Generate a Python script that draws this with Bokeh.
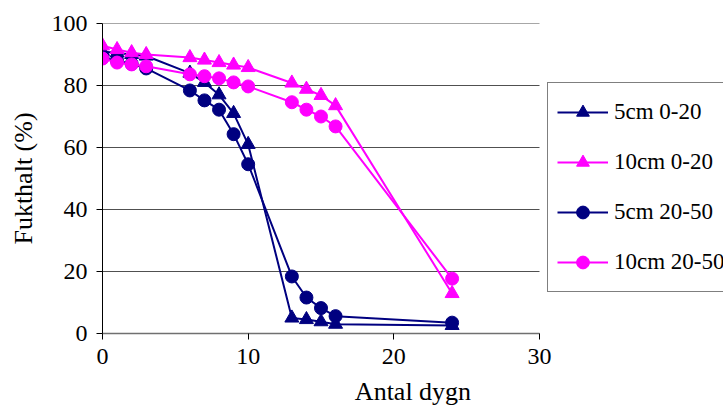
from bokeh.plotting import figure
from bokeh.models import Range1d, Legend, LegendItem, FixedTicker
from bokeh.embed import file_html
from bokeh.resources import INLINE

days = [0, 1, 2, 3, 6, 7, 8, 9, 10, 13, 14, 15, 16, 24]
s5_0_20 = [91, 90.5, 90, 89.5, 84, 81, 77, 71, 61, 5, 4.5, 3.8, 3, 2.6]
s10_0_20 = [92.8, 91.6, 90.6, 90, 89, 88.2, 87.4, 86.6, 85.8, 80.8, 78.8, 76.8, 73.5, 12.9]
s5_20_50 = [89, 88, 87, 85.5, 78.4, 75.2, 72.2, 64.3, 54.6, 18.4, 11.6, 8.2, 5.6, 3.5]
s10_20_50 = [88.7, 87.4, 86.8, 86.2, 83.6, 83, 82.3, 81, 79.7, 74.6, 72.2, 70, 66.8, 17.7]
x_ticks = [0, 10, 20, 30]
y_ticks = [0, 20, 40, 60, 80, 100]
labels = ["5cm 0-20", "10cm 0-20", "5cm 20-50", "10cm 20-50"]

NAVY = "#000080"
MAG = "#FF00FF"
FONT = "Liberation Serif, Times New Roman, serif"

# frame spans to the right edge; the x axis itself is bounded to 0..30
XMAX = 30
x_end = XMAX * (723 - 102) / 437.0

p = figure(width=723, height=420, output_backend="svg", toolbar_location=None,
           x_range=Range1d(0, x_end), y_range=Range1d(0, 100),
           min_border_left=102, min_border_right=0, min_border_top=23, min_border_bottom=87)
p.outline_line_color = None
p.background_fill_color = "white"
p.border_fill_color = "white"

p.xgrid.grid_line_color = None
p.ygrid.grid_line_color = None

# horizontal gridlines only across the axis span 0..30
p.segment(x0=[0] * len(y_ticks), x1=[XMAX] * len(y_ticks), y0=y_ticks, y1=y_ticks,
          line_color="#505050", line_width=1)

p.xaxis.ticker = FixedTicker(ticks=x_ticks)
p.yaxis.ticker = FixedTicker(ticks=y_ticks)
p.xaxis.bounds = (0, XMAX)
for ax in (p.xaxis[0], p.yaxis[0]):
    ax.major_label_text_font = FONT
    ax.major_label_text_font_size = "24px"
    ax.major_label_text_color = "black"
    ax.axis_label_text_font = FONT
    ax.axis_label_text_font_size = "26px"
    ax.axis_label_text_font_style = "normal"
    ax.axis_label_text_color = "black"
    ax.minor_tick_line_color = None
    ax.major_tick_in = 0
    ax.major_tick_out = 6
    ax.major_tick_line_color = "black"
p.xaxis.axis_line_color = "#707070"
p.xaxis.axis_line_width = 1.5
p.yaxis.axis_line_color = "black"
p.xaxis.axis_label = "Antal dygn"
p.yaxis.axis_label = "Fukthalt (%)"
p.xaxis.major_label_standoff = 9
p.xaxis.axis_label_standoff = 10
p.yaxis.major_label_standoff = 9
p.yaxis.axis_label_standoff = 11

r1l = p.line(days, s5_0_20, line_color=NAVY, line_width=2)
r1m = p.scatter(days, s5_0_20, marker="triangle", size=14, color=NAVY)
r3l = p.line(days, s5_20_50, line_color=NAVY, line_width=2)
r3m = p.scatter(days, s5_20_50, marker="circle", size=13, color=NAVY)
r2l = p.line(days, s10_0_20, line_color=MAG, line_width=2)
r2m = p.scatter(days, s10_0_20, marker="triangle", size=14, color=MAG)
r4l = p.line(days, s10_20_50, line_color=MAG, line_width=2)
r4m = p.scatter(days, s10_20_50, marker="circle", size=13, color=MAG)

legend = Legend(items=[
    LegendItem(label=labels[0], renderers=[r1l, r1m]),
    LegendItem(label=labels[1], renderers=[r2l, r2m]),
    LegendItem(label=labels[2], renderers=[r3l, r3m]),
    LegendItem(label=labels[3], renderers=[r4l, r4m]),
], location=(445, 41))
legend.label_text_font = FONT
legend.label_text_font_size = "23px"
legend.label_text_color = "black"
legend.glyph_width = 51
legend.glyph_height = 32
legend.label_height = 40
legend.spacing = 10
legend.padding = 9
legend.margin = 0
legend.label_standoff = 6
legend.border_line_color = "black"
legend.border_line_width = 1
legend.background_fill_color = "white"
legend.background_fill_alpha = 1
p.add_layout(legend, "center")

open("out.html", "w").write(file_html(p, INLINE))
